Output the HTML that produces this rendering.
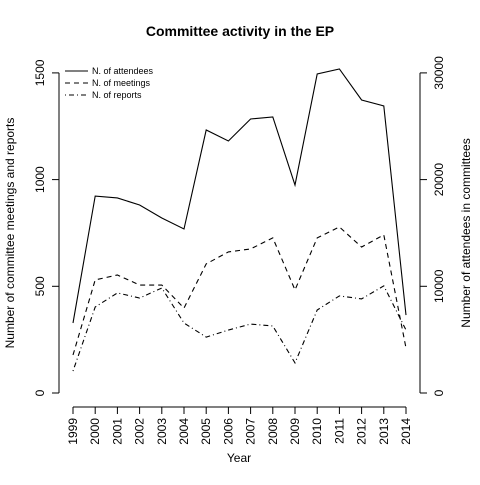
<!DOCTYPE html>
<html><head><meta charset="utf-8"><style>
body{margin:0;background:#fff}
svg text{font-family:"Liberation Sans",Arial,sans-serif;fill:#000}
</style></head><body>
<svg id="chart" width="480" height="480" viewBox="0 0 480 480">
<text x="240" y="36" text-anchor="middle" font-size="14" font-weight="bold">Committee activity in the EP</text>
<g id="axes"></g>
<g id="series"></g>
<g id="legend"></g>
</svg>
<script>
const years=[1999,2000,2001,2002,2003,2004,2005,2006,2007,2008,2009,2010,2011,2012,2013,2014];
const attendees=[6560,18460,18280,17620,16400,15370,24650,23620,25680,25870,19490,29900,30370,27460,26900,7300];
const meetings=[178,530,553,506,506,398,605,661,675,727,483,727,778,684,741,211];
const reports=[103,403,469,445,492,328,262,295,323,314,141,389,455,441,502,295];
const leftTicks=[0,500,1000,1500];
const rightTicks=[0,10000,20000,30000];
const NS="http://www.w3.org/2000/svg";
const x=y=>73+(y-1999)*22.2;
const yl=v=>393-v*106.7/500;
const yr=v=>393-v*106.7/10000;
function mk(tag,attrs,parent,text){const e=document.createElementNS(NS,tag);for(const k in attrs)e.setAttribute(k,attrs[k]);if(text!==undefined)e.textContent=text;parent.appendChild(e);return e;}
const ax=document.getElementById('axes');
let e=mk('line',{x1:59,x2:59,y1:yl(0),y2:yl(1500),stroke:'#000'},ax);


leftTicks.forEach(t=>{mk('line',{x1:52,x2:59,y1:yl(t),y2:yl(t),stroke:'#000'},ax);
 const tx=mk('text',{x:44,y:yl(t),'font-size':12,'text-anchor':'middle',transform:`rotate(-90 44 ${yl(t)})`},ax,t);
 
 });
e=mk('line',{x1:420,x2:420,y1:yr(0),y2:yr(30000),stroke:'#000'},ax);


rightTicks.forEach(t=>{mk('line',{x1:420,x2:427,y1:yr(t),y2:yr(t),stroke:'#000'},ax);
 const tx=mk('text',{x:443,y:yr(t),'font-size':12,'text-anchor':'middle',transform:`rotate(-90 443 ${yr(t)})`},ax,t);
 
 });
e=mk('line',{x1:x(1999),x2:x(2014),y1:407,y2:407,stroke:'#000'},ax);


years.forEach(yv=>{mk('line',{x1:x(yv),x2:x(yv),y1:407,y2:414,stroke:'#000'},ax);
 const tx=mk('text',{x:x(yv)+4,y:418,'font-size':12,'text-anchor':'end',transform:`rotate(-90 ${x(yv)+4} 418)`},ax,yv);
 
 });
e=mk('text',{x:239,y:462,'font-size':12,'text-anchor':'middle'},ax,'Year');


e=mk('text',{x:14,y:233,'font-size':12,'text-anchor':'middle',transform:'rotate(-90 14 233)'},ax,'Number of committee meetings and reports');


e=mk('text',{x:470,y:233,'font-size':12,'text-anchor':'middle',transform:'rotate(-90 470 233)'},ax,'Number of attendees in committees');


const sg=document.getElementById('series');
function line(vals,fy,dash,name){const p=mk('polyline',{points:years.map((yv,i)=>x(yv)+','+fy(vals[i])).join(' '),fill:'none',stroke:'#000','stroke-width':1.1,'stroke-dasharray':dash},sg);
 
 }
line(attendees,yr,'none','attendees-line');
line(meetings,yl,'5,4','meetings-line');
line(reports,yl,'1,3,5,3','reports-line');
const lg=document.getElementById('legend');
[['N. of attendees','none'],['N. of meetings','5,4'],['N. of reports','1,3,5,3']].forEach((d,i)=>{
 const yy=71+i*12;
 const g=mk('g',{},lg);
 
 
 mk('line',{x1:65,x2:88,y1:yy,y2:yy,stroke:'#000','stroke-dasharray':d[1]},g);
 mk('text',{x:92,y:yy+3,'font-size':9},g,d[0]);
});
</script>
</body></html>
